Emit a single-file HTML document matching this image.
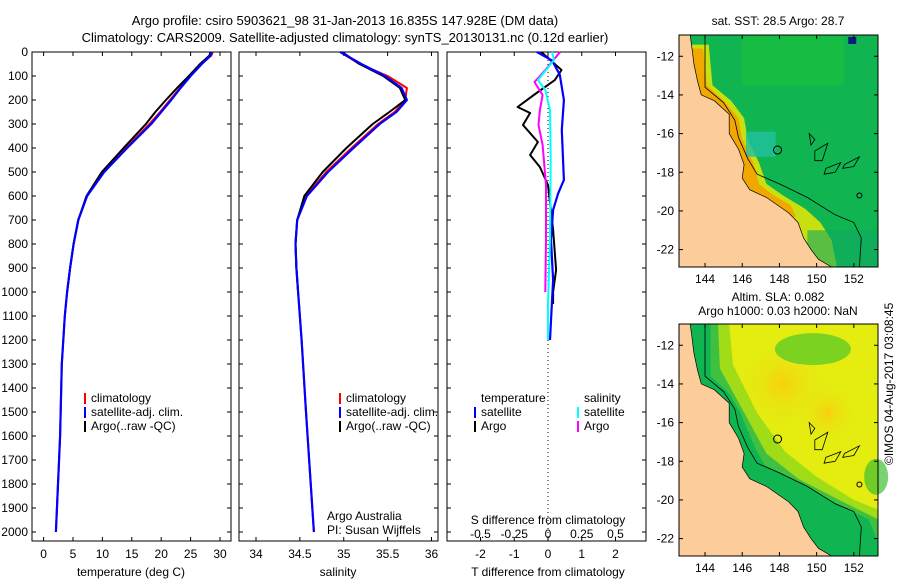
<!DOCTYPE html>
<html><head><meta charset="utf-8">
<style>
html,body{margin:0;padding:0;background:#fff;}
svg{display:block;font-family:"Liberation Sans",sans-serif;font-size:12px;}
</style></head>
<body>
<svg id="fig" width="900" height="580" xmlns="http://www.w3.org/2000/svg">
<text x="345" y="25" text-anchor="middle" font-size="13">Argo profile: csiro 5903621_98 31-Jan-2013 16.835S 147.928E (DM data)</text>
<text x="345" y="42" text-anchor="middle" font-size="13">Climatology: CARS2009. Satellite-adjusted climatology: synTS_20130131.nc (0.12d earlier)</text>
<g id="p1"></g>
<g id="p2"></g>
<g id="p3"></g>
<g id="maps"></g>
<text transform="translate(893,465) rotate(-90)" font-size="12">©IMOS 04-Aug-2017 03:08:45</text>
</svg>
<script>
// ---- data ----
const depthT=[0,15,50,100,150,200,250,300,400,500,600,700,800,900,1000,1100,1300,1600,2000];
const tempClim=[28.8,28.5,26.8,24.9,23.2,21.5,19.8,18.0,14.0,10.2,7.4,5.9,5.1,4.5,4.0,3.6,3.1,2.8,2.1];
const tempSat=[28.6,28.4,26.9,25.0,23.3,21.7,20.0,18.3,14.2,10.3,7.4,5.9,5.1,4.5,4.0,3.6,3.1,2.8,2.1];
const tempArgo=[28.4,28.2,26.6,24.7,22.7,20.8,19.0,17.4,13.6,9.9,7.3,5.9,5.1,4.5,4.0];
const depthS=[0,50,100,150,200,250,300,400,500,600,700,800,900,1000,1200,1500,2000];
const salClim=[34.96,35.18,35.5,35.72,35.7,35.58,35.39,35.09,34.8,34.57,34.47,34.45,34.46,34.48,34.52,34.57,34.66];
const salSat=[34.96,35.2,35.47,35.66,35.72,35.6,35.41,35.11,34.82,34.58,34.47,34.45,34.46,34.48,34.52,34.57,34.66];
const salArgo=[34.98,35.18,35.45,35.64,35.7,35.52,35.33,35.03,34.76,34.55,34.47,34.45,34.46,34.48];
const dDepthBlue=[0,35,95,200,325,533,590,658,783,950,1200];
const dTSat=[-0.33,0.12,0.35,0.47,0.41,0.47,0.3,0.15,0.09,0.15,0.06];
const dDepthArgo=[0,75,117,179,229,254,304,375,429,479,554,741,908,1000,1050];
const dTArgo=[-0.2,0.4,0.2,-0.42,-0.9,-0.53,-0.74,-0.3,-0.53,-0.24,0,0.15,0.24,0.15,0.15];
const dDepthMag=[0,75,125,179,242,304,387,554,783,1000];
const dSMag=[0.09,-0.02,-0.1,-0.04,-0.06,-0.07,-0.04,-0.015,-0.015,-0.02];
const dDepthCyan=[0,33,117,158,242,450,783,1050,1200];
const dSCyan=[0.03,0.045,-0.075,-0.02,0.015,0.02,0.015,0.0,0.0];
const depthTicks=[0,100,200,300,400,500,600,700,800,900,1000,1100,1200,1300,1400,1500,1600,1700,1800,1900,2000];
const tempTicks=[0,5,10,15,20,25,30];
const salTicks=[34,34.5,35,35.5,36];
const salTickLabels=["34","34.5","35","35.5","36"];
const dTTicks=[-2,-1,0,1,2];
const dSTicks=[-0.5,-0.25,0,0.25,0.5];
const dSTickLabels=["-0.5","-0.25","0","0.25","0.5"];
const latTicks=[-12,-14,-16,-18,-20,-22];
const lonTicks=[144,146,148,150,152];

// ---- helpers ----
const NS="http://www.w3.org/2000/svg";
function mk(parent,tag,attrs,txt){const e=document.createElementNS(NS,tag);for(const k in attrs)e.setAttribute(k,attrs[k]);if(txt!==undefined)e.textContent=txt;parent.appendChild(e);return e;}
const top0=52, pxPerM=0.24, bottom=541;
const yD=d=>top0+d*pxPerM;
function lin(d0,d1,r0,r1){return v=>r0+(v-d0)/(d1-d0)*(r1-r0);}
function frame(g,x0,x1,name){
  const r=mk(g,'rect',{x:x0,y:top0,width:x1-x0,height:bottom-top0,fill:'none',stroke:'#000','stroke-width':1});
  
  
}
function yTicks(g,x0,x1){
  depthTicks.forEach(d=>{const y=yD(d);
    mk(g,'line',{x1:x0,y1:y,x2:x0+4,y2:y,stroke:'#000'});
    mk(g,'line',{x1:x1-4,y1:y,x2:x1,y2:y,stroke:'#000'});});
}
function xTicks(g,vals,labels,sx,ly,name){
  vals.forEach((v,i)=>{const x=sx(v);
    mk(g,'line',{x1:x,y1:top0,x2:x,y2:top0+4,stroke:'#000'});
    mk(g,'line',{x1:x,y1:bottom-4,x2:x,y2:bottom,stroke:'#000'});
    const t=mk(g,'text',{x:x,y:ly,'text-anchor':'middle'},labels[i]);
    
    });
}
function line(g,xs,ds,sx,color,w,name){
  const pts=xs.map((v,i)=>sx(v).toFixed(1)+','+yD(ds[i]).toFixed(1)).join(' ');
  const p=mk(g,'polyline',{points:pts,fill:'none',stroke:color,'stroke-width':w,'stroke-linejoin':'round'});
  
  
}
function legend(g,x,y,color,label,name){
  mk(g,'rect',{x:x,y:y-9,width:2,height:11,fill:color});
  const t=mk(g,'text',{x:x+7,y:y},label);
  
  
}

// ---- panel 1 temperature ----
const g1=document.getElementById('p1');
const sT=lin(0,30,43.6,220);
frame(g1,32,231,'temperature-axes');
yTicks(g1,32,231);
depthTicks.forEach(d=>{const t=mk(g1,'text',{x:28,y:yD(d)+4,'text-anchor':'end'},String(d));
  
  });
xTicks(g1,tempTicks,tempTicks.map(String),sT,558,'temp-tick-label');
line(g1,tempClim,depthT,sT,'#f00',2,'temp-climatology-line');
line(g1,tempArgo,depthT,sT,'#000',2,'temp-argo-line');
line(g1,tempSat,depthT,sT,'#00f',2.2,'temp-satellite-line');
legend(g1,84,402,'#f00','climatology','legend-climatology');
legend(g1,84,416,'#00f','satellite-adj. clim.','legend-satellite');
legend(g1,84,430,'#000','Argo(..raw -QC)','legend-argo');
mk(g1,'text',{x:131,y:576,'text-anchor':'middle'},'temperature (deg C)');

// ---- panel 2 salinity ----
const g2=document.getElementById('p2');
const sS=lin(34,36,256,431.5);
frame(g2,239,438,'salinity-axes');
yTicks(g2,239,438);
xTicks(g2,salTicks,salTickLabels,sS,558,'sal-tick-label');
line(g2,salClim,depthS,sS,'#f00',2,'sal-climatology-line');
line(g2,salArgo,depthS,sS,'#000',2,'sal-argo-line');
line(g2,salSat,depthS,sS,'#00f',2.2,'sal-satellite-line');
legend(g2,339,402,'#f00','climatology','legend-climatology');
legend(g2,339,416,'#00f','satellite-adj. clim.','legend-satellite');
legend(g2,339,430,'#000','Argo(..raw -QC)','legend-argo');
mk(g2,'text',{x:327,y:520},'Argo Australia');
mk(g2,'text',{x:327,y:534},'PI: Susan Wijffels');
mk(g2,'text',{x:338,y:576,'text-anchor':'middle'},'salinity');

// ---- panel 3 differences ----
const g3=document.getElementById('p3');
const sdT=lin(-2,2,480.5,615.5);
const sdS=lin(-0.5,0.5,480.5,615.5);
frame(g3,447,646,'difference-axes');
yTicks(g3,447,646);
mk(g3,'line',{x1:sdT(0),y1:top0,x2:sdT(0),y2:bottom,stroke:'#000','stroke-dasharray':'1,3'});
xTicks(g3,dTTicks,dTTicks.map(String),sdT,558,'dT-tick-label');
dSTicks.forEach((v,i)=>{const t=mk(g3,'text',{x:sdS(v),y:538,'text-anchor':'middle'},dSTickLabels[i]);
  
  });
mk(g3,'text',{x:548,y:524,'text-anchor':'middle'},'S difference from climatology');
mk(g3,'text',{x:548,y:576,'text-anchor':'middle'},'T difference from climatology');
line(g3,dTArgo,dDepthArgo,sdT,'#000',2,'dT-argo-line');
line(g3,dSMag,dDepthMag,sdS,'#f0f',2,'dS-argo-line');
line(g3,dTSat,dDepthBlue,sdT,'#00f',2.2,'dT-satellite-line');
line(g3,dSCyan,dDepthCyan,sdS,'#0ff',2,'dS-satellite-line');
mk(g3,'text',{x:481,y:402},'temperature');
mk(g3,'text',{x:584,y:402},'salinity');
legend(g3,474,416,'#00f','satellite','legend-t-satellite');
legend(g3,474,430,'#000','Argo','legend-t-argo');
legend(g3,577,416,'#0ff','satellite','legend-s-satellite');
legend(g3,577,430,'#f0f','Argo','legend-s-argo');

// ---- maps ----
const gm=document.getElementById('maps');
const coast=[[142.6,-10.9],[143.2,-10.9],[143.3,-11.6],[143.4,-12.4],[143.6,-13.3],[143.8,-14.0],[144.5,-14.3],[145.3,-15.0],[145.3,-16.0],[145.8,-16.8],[146.1,-17.6],[146.0,-18.3],[146.4,-18.9],[147.3,-19.3],[148.5,-20.1],[149.0,-20.6],[149.3,-21.4],[149.7,-22.0],[150.1,-22.5],[150.8,-22.9],[142.6,-22.9]];
const shelf=[[144.0,-10.9],[144.0,-13.6],[145.0,-14.4],[145.6,-15.3],[145.8,-16.2],[146.3,-17.3],[146.8,-18.1],[148.0,-18.6],[149.5,-19.3],[151.0,-20.2],[152.0,-20.6],[152.4,-21.4],[152.3,-22.9]];
const orange=[[143.3,-11.6],[143.9,-11.6],[144.1,-13.5],[145.0,-14.3],[145.8,-15.2],[146.0,-16.3],[146.6,-17.5],[146.9,-18.6],[147.7,-19.2],[149.0,-19.9],[149.8,-20.6],[150.4,-21.5],[150.7,-22.5],[150.8,-22.9],[150.0,-22.5],[149.3,-21.4],[148.5,-20.1],[146.4,-18.9],[146.0,-18.3],[145.8,-16.8],[145.3,-16.0],[145.3,-15.0],[144.5,-14.3],[143.8,-14.0]];
const islands=[[[150.5,-17.8],[151.3,-17.5],[151.0,-18.0],[150.4,-18.1]],[[151.5,-17.6],[152.3,-17.2],[152.0,-17.7],[151.4,-17.8]],[[149.9,-16.9],[150.6,-16.5],[150.3,-17.4],[149.9,-17.4]],[[149.6,-16.0],[149.9,-16.3],[149.7,-16.6]]];
function drawMap(y0,name,oceanFill,coastBand,extra){
  const x0=679,x1=878,y1=y0+232;
  const px=lon=>x0+(lon-142.6)*(x1-x0)/(153.3-142.6);
  const py=lat=>y0+(-10.9-lat)*(y1-y0)/12;
  const g=mk(gm,'g',{});
  
  
  mk(g,'rect',{x:x0,y:y0,width:x1-x0,height:y1-y0,fill:oceanFill});
  if(extra) extra(g,px,py);
  const P=a=>a.map(p=>px(p[0]).toFixed(1)+','+py(p[1]).toFixed(1)).join(' ');
  if(coastBand) mk(g,'polygon',{points:P(orange),fill:coastBand});
  mk(g,'polygon',{points:P(coast),fill:'#fccc9a',stroke:'#000','stroke-width':0.7});
  mk(g,'polyline',{points:P(shelf),fill:'none',stroke:'#000','stroke-width':0.8});
  islands.forEach(a=>mk(g,'polygon',{points:P(a),fill:'none',stroke:'#000','stroke-width':0.8}));
  mk(g,'circle',{cx:px(147.9),cy:py(-16.85),r:4,fill:'none',stroke:'#000'});
  mk(g,'circle',{cx:px(152.3),cy:py(-19.2),r:2.5,fill:'none',stroke:'#000'});
  mk(g,'rect',{x:x0,y:y0,width:x1-x0,height:y1-y0,fill:'none',stroke:'#000'});
  latTicks.forEach(l=>{const y=py(l);
    mk(g,'line',{x1:x0,y1:y,x2:x0+4,y2:y,stroke:'#000'});
    mk(g,'line',{x1:x1-4,y1:y,x2:x1,y2:y,stroke:'#000'});
    mk(g,'text',{x:x0-5,y:y+4,'text-anchor':'end'},String(l));});
  lonTicks.forEach(l=>{const x=px(l);
    mk(g,'line',{x1:x,y1:y0,x2:x,y2:y0+4,stroke:'#000'});
    mk(g,'line',{x1:x,y1:y1-4,x2:x,y2:y1,stroke:'#000'});
    mk(g,'text',{x:x,y:y1+16,'text-anchor':'middle'},String(l));});
}
mk(gm,'text',{x:778,y:25,'text-anchor':'middle'},'sat. SST: 28.5 Argo: 28.7');
drawMap(35,'sst-map','#10b450',null,(g,px,py)=>{
  const P=a=>a.map(p=>px(p[0])+','+py(p[1])).join(' ');
  // yellow band outside orange
  mk(g,'polygon',{points:P([[143.3,-11.4],[144.2,-11.4],[144.4,-13.5],[145.4,-14.3],[146.1,-15.2],[146.3,-16.3],[146.9,-17.5],[147.3,-18.6],[148.2,-19.2],[149.4,-19.9],[150.2,-20.6],[150.8,-21.5],[151.1,-22.9],[142.6,-22.9]]),fill:'#c8e010'});
  mk(g,'polygon',{points:P([[143.3,-11.6],[143.9,-11.6],[144.1,-13.5],[145.0,-14.3],[145.8,-15.2],[146.0,-16.3],[146.6,-17.5],[146.9,-18.6],[147.7,-19.2],[148.6,-19.7],[148.9,-20.3],[142.6,-20.3]]),fill:'#f0a800'});
  mk(g,'rect',{x:px(146.2),y:py(-15.9),width:px(147.8)-px(146.2),height:py(-17.2)-py(-15.9),fill:'#20c0a0',opacity:0.8});
  mk(g,'rect',{x:px(146.0),y:py(-10.9),width:px(151.5)-px(146.0),height:py(-13.5)-py(-10.9),fill:'#20c830',opacity:0.45});
  mk(g,'rect',{x:px(149.5),y:py(-21),width:px(153.3)-px(149.5),height:py(-22.9)-py(-21),fill:'#10a860',opacity:0.6});
  mk(g,'rect',{x:px(151.7),y:py(-11.0),width:8,height:7,fill:'#0a1a80'});
});
mk(gm,'text',{x:778,y:301,'text-anchor':'middle'},'Altim. SLA: 0.082');
mk(gm,'text',{x:778,y:315,'text-anchor':'middle'},'Argo h1000: 0.03 h2000: NaN');
drawMap(324,'sla-map','#e4ec10',null,(g,px,py)=>{
  const d=mk(g,'defs',{});
  const rg=mk(d,'radialGradient',{id:'slaY',cx:'0.5',cy:'0.5',r:'0.5'});
  mk(rg,'stop',{offset:'0','stop-color':'#f8d010'});
  mk(rg,'stop',{offset:'1','stop-color':'#e4ec10','stop-opacity':'0'});
  mk(g,'ellipse',{cx:px(148.2),cy:py(-14),rx:45,ry:45,fill:'url(#slaY)'});
  mk(g,'ellipse',{cx:px(150.6),cy:py(-15.5),rx:30,ry:30,fill:'url(#slaY)'});
  const P=a=>a.map(p=>px(p[0])+','+py(p[1])).join(' ');
  mk(g,'polygon',{points:P([[142.6,-10.9],[145.3,-10.9],[145.5,-13],[146.8,-15.5],[148.3,-17.5],[150,-18.8],[152,-20],[153.3,-20.5],[153.3,-22.9],[142.6,-22.9]]),fill:'#a0dc18'});
  mk(g,'polygon',{points:P([[142.6,-10.9],[144.7,-10.9],[144.8,-13.2],[146.0,-15.3],[147.3,-17.6],[149,-18.9],[151.2,-20],[153.3,-21],[153.3,-22.9],[142.6,-22.9]]),fill:'#40c040'});
  mk(g,'polygon',{points:P([[142.6,-10.9],[144.3,-10.9],[144.3,-13.6],[145.3,-14.5],[145.9,-15.5],[146.2,-16.2],[146.7,-17.3],[147.2,-18.2],[148.5,-18.8],[150,-19.6],[151.5,-20.4],[152.8,-21],[153.3,-22.2],[153.3,-22.9],[142.6,-22.9]]),fill:'#10b450'});
  mk(g,'ellipse',{cx:px(149.8),cy:py(-12.2),rx:38,ry:16,fill:'#50c828',opacity:0.7});
  mk(g,'ellipse',{cx:px(153.2),cy:py(-18.8),rx:12,ry:18,fill:'#40c030',opacity:0.7});
});
</script>
</body></html>
